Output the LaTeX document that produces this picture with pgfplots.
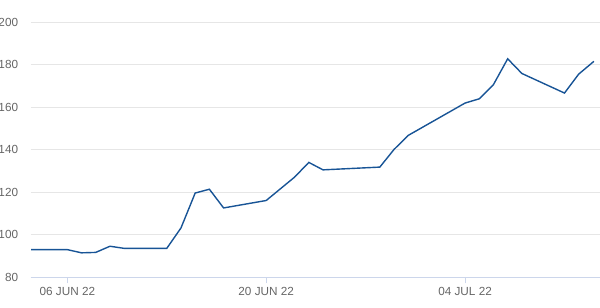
\documentclass[border=0pt]{standalone}
\usepackage{fontspec}
\setmainfont{Liberation Sans}
\usepackage{pgfplots}
\pgfplotsset{compat=1.18}
\definecolor{lineblue}{RGB}{24,84,150}
\definecolor{gridgray}{RGB}{230,230,230}
\definecolor{axisblue}{RGB}{204,214,235}
\definecolor{labelgray}{RGB}{102,102,102}
\begin{document}
\begin{tikzpicture}
\begin{axis}[
  at={(0,0)}, anchor=south west,
  scale only axis,
  width=569.3bp, height=255.3bp,
  xmin=-2.58, xmax=37.5,
  ymin=80, ymax=200,
  xtick={0,14,28},
  xticklabels={06 JUN 22,20 JUN 22,04 JUL 22},
  ytick={80,100,120,140,160,180,200},
  axis x line*=bottom, axis y line*=left,
  x axis line style={draw=axisblue, line width=0.8bp, -},
  y axis line style={draw=none},
  ymajorgrids,
  grid style={draw=gridgray, line width=0.8bp},
  xtick style={draw=axisblue, line width=0.8bp},
  ytick style={draw=none},
  tick align=outside,
  major tick length=6bp,
  /pgf/number format/assume math mode=true,
  ticklabel style={font=\fontsize{11.8}{13}\selectfont, text=labelgray, inner sep=0pt},
  xticklabel style={anchor=north, yshift=-4bp},
  yticklabel style={anchor=east, xshift=-6.4bp},
  clip=true,
]
\addplot[lineblue, line width=1.4bp, mark=none] coordinates {
(-2.55,93.0) (0,93.0) (1,91.5) (2,91.7) (3,94.6) (4,93.6) (7,93.6)
(8,103.2) (9,119.6) (10,121.4) (11,112.6) (14,116.1) (16,127.1)
(17,134.0) (18,130.5) (22,131.8) (23,140.1) (24,146.7) (28,161.9)
(29,163.9) (30,170.6) (31,182.7) (32,175.8) (35,166.6) (36,175.5)
(37.07,181.5)
};
\end{axis}
\pgfresetboundingbox
\path (-30.7bp,-30.7bp) rectangle (569.3bp,277.3bp);
\end{tikzpicture}
\end{document}
